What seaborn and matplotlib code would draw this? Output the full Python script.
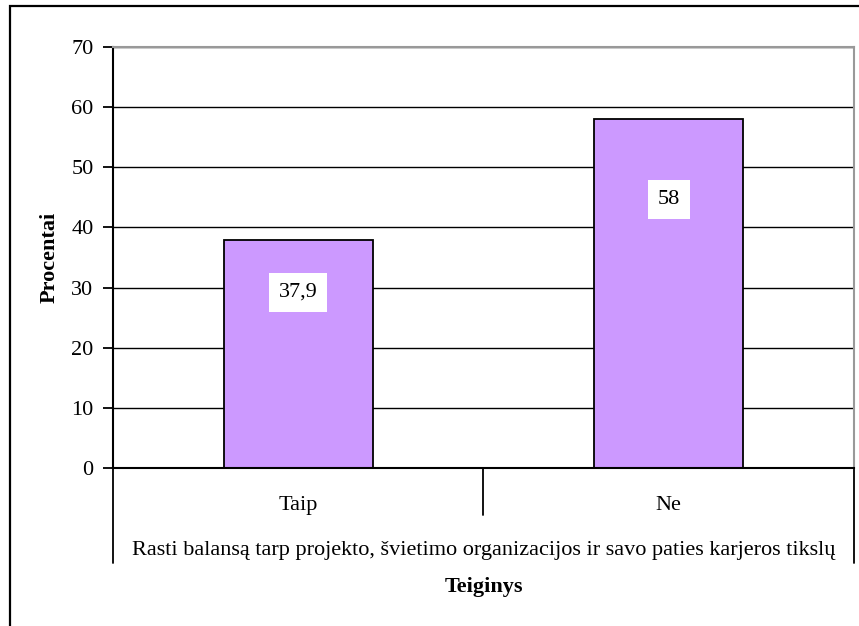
import matplotlib
matplotlib.use("Agg")
import matplotlib.pyplot as plt
from matplotlib.patches import Rectangle
import matplotlib.transforms as mtransforms
import seaborn as sns
import pandas as pd

# Data
categories = ["Taip", "Ne"]
values = [37.9, 58]
value_labels = ["37,9", "58"]
group_label = "Rasti balansą tarp projekto, švietimo organizacijos ir savo paties karjeros tikslų"
y_ticks = [0, 10, 20, 30, 40, 50, 60, 70]

df = pd.DataFrame({"Teiginys": categories, "Procentai": values})

sns.set_style("white")
plt.rcParams["font.family"] = ["Liberation Serif", "DejaVu Serif"]
plt.rcParams["text.color"] = "black"
plt.rcParams["axes.labelcolor"] = "black"
plt.rcParams["xtick.color"] = "black"
plt.rcParams["ytick.color"] = "black"

FS = 16

fig = plt.figure(figsize=(8.59, 6.26), dpi=100)
ax = fig.add_axes([0.1315, 0.2524, 0.8627, 0.6725])

sns.barplot(data=df, x="Teiginys", y="Procentai", order=categories,
            color="#CC99FF", saturation=1, width=0.402,
            edgecolor="black", linewidth=1.3, ax=ax)

ax.set_xlim(-0.5, 1.5)
ax.set_ylim(0, 70)
ax.set_yticks(y_ticks)
ax.set_yticklabels([str(t) for t in y_ticks], fontsize=FS)
ax.tick_params(axis="y", direction="out", length=7, width=1.3, color="black",
               pad=7, left=True)
ax.tick_params(axis="x", length=0, pad=20, labelsize=FS)

ax.yaxis.grid(True, color="black", linewidth=1.0)
ax.set_axisbelow(True)

for side in ["left", "bottom"]:
    ax.spines[side].set_color("black")
    ax.spines[side].set_linewidth(1.5)
for side in ["top", "right"]:
    ax.spines[side].set_color("#999999")
    ax.spines[side].set_linewidth(1.5)

# Value labels in white boxes, placed inside the bars
for i, (v, lab) in enumerate(zip(values, value_labels)):
    ax.text(i, v * 0.77, lab, ha="center", va="center", fontsize=FS,
            bbox=dict(facecolor="white", edgecolor="none", pad=7))

# Category separators below the axis
trans = mtransforms.blended_transform_factory(ax.transData, ax.transAxes)
for x, y_end in [(-0.5, -0.2257), (0.5, -0.1116), (1.5, -0.2257)]:
    ax.plot([x, x], [0, y_end], color="black", lw=1.3, transform=trans,
            clip_on=False)

ax.text(0.5, -0.195, group_label, transform=ax.transAxes, ha="center",
        va="center", fontsize=FS)

ax.set_xlabel("Teiginys", fontsize=FS, fontweight="bold")
ax.xaxis.set_label_coords(0.5, -0.2827)
ax.xaxis.label.set_va("center")
ax.set_ylabel("Procentai", fontsize=FS, fontweight="bold")
ax.yaxis.set_label_coords(-0.085, 0.5)
ax.yaxis.label.set_va("center")

# Outer chart border
fig.patches.append(Rectangle((10 / 859, -0.1), 1.2, 0.1 + 1 - 6 / 626,
                             transform=fig.transFigure, fill=False,
                             edgecolor="black", linewidth=1.6))

fig.savefig("out.png", dpi=100)
